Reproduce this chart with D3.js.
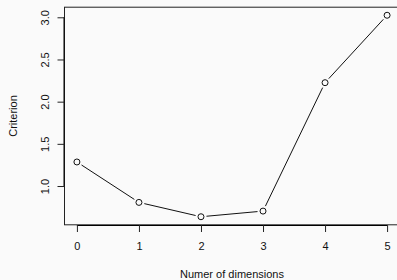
<!DOCTYPE html>
<html>
<head>
<meta charset="utf-8">
<script src="https://cdn.jsdelivr.net/npm/d3@7"></script>
<style>
  body { margin: 0; background: #fafafa; }
  svg { display: block; font-family: "Liberation Sans", Arial, sans-serif; }
</style>
</head>
<body>
<svg width="397" height="280"></svg>
<script>
var dims = [0, 1, 2, 3, 4, 5];
var criterion = [1.285, 0.806, 0.636, 0.703, 2.225, 3.024];
var xTicks = [0, 1, 2, 3, 4, 5];
var yTicks = [1.0, 1.5, 2.0, 2.5, 3.0];

var svg = d3.select("svg");

var x = d3.scaleLinear().domain([-0.2, 5.2]).range([64.5, 399.5]);
var y = d3.scaleLinear().domain([0.5405, 3.1195]).range([224.8, 7.2]);

svg.append("rect").attr("width", 397).attr("height", 280).attr("fill", "#fafafa");

// box
svg.append("rect")
   .attr("x", x(-0.2)).attr("y", y(3.1195))
   .attr("width", x(5.2) - x(-0.2)).attr("height", y(0.5405) - y(3.1195))
   .attr("fill", "none").attr("stroke", "#222").attr("stroke-width", 1);

// x axis
var xAxis = svg.append("g")
   .attr("transform", "translate(0," + 225 + ")")
   .call(d3.axisBottom(x).tickValues(xTicks).tickSize(7).tickPadding(10).tickFormat(d3.format("d")));
xAxis.select(".domain").attr("d", "M" + x(0) + ",0.5H" + x(5));
xAxis.selectAll("text").attr("font-size", 11).attr("fill", "#111");
xAxis.selectAll("line").attr("stroke", "#222");

// y axis
var yAxis = svg.append("g")
   .attr("transform", "translate(" + 64.5 + ",0)")
   .call(d3.axisLeft(y).tickValues(yTicks).tickSize(7).tickFormat(d3.format(".1f")));
yAxis.select(".domain").attr("d", "M-0.5," + y(1) + "V" + y(3));
yAxis.selectAll("line").attr("stroke", "#222");
yAxis.selectAll("text")
   .attr("font-size", 11).attr("fill", "#111")
   .attr("text-anchor", "middle").attr("dy", null)
   .attr("transform", "translate(-20,0) rotate(-90)")
   .attr("x", 0).attr("y", 4);

// axis titles
svg.append("text")
   .attr("x", (x(-0.2) + x(5.2)) / 2).attr("y", 278)
   .attr("text-anchor", "middle").attr("font-size", 11).attr("fill", "#111")
   .text("Numer of dimensions");

svg.append("text")
   .attr("transform", "translate(17," + (y(0.5405) + y(3.1195)) / 2 + ") rotate(-90)")
   .attr("text-anchor", "middle").attr("font-size", 11).attr("fill", "#111")
   .text("Criterion");

// line segments with gaps (type = "b")
var pts = dims.map(function(d, i) { return [x(d), y(criterion[i])]; });
var gap = 5.5;
var segs = [];
for (var i = 0; i < pts.length - 1; i++) {
    var a = pts[i], b = pts[i + 1];
    var dx = b[0] - a[0], dy = b[1] - a[1];
    var len = Math.sqrt(dx * dx + dy * dy);
    var ux = dx / len, uy = dy / len;
    segs.push([a[0] + ux * gap, a[1] + uy * gap, b[0] - ux * gap, b[1] - uy * gap]);
}
svg.append("g").selectAll("line")
   .data(segs)
   .enter().append("line")
   .attr("x1", function(d) { return d[0]; })
   .attr("y1", function(d) { return d[1]; })
   .attr("x2", function(d) { return d[2]; })
   .attr("y2", function(d) { return d[3]; })
   .attr("stroke", "#111").attr("stroke-width", 1);

svg.append("g").selectAll("circle")
   .data(dims)
   .enter().append("circle")
   .attr("cx", function(d) { return x(d); })
   .attr("cy", function(d, i) { return y(criterion[i]); })
   .attr("r", 3)
   .attr("fill", "none").attr("stroke", "#111").attr("stroke-width", 1);
</script>
</body>
</html>
